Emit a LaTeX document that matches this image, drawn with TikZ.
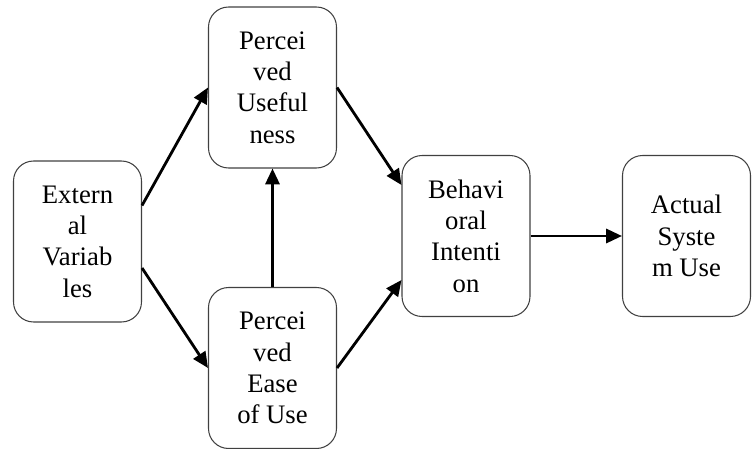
\documentclass[tikz,border=0pt]{standalone}
\usepackage{fontspec}
\setmainfont{Liberation Serif}
\usetikzlibrary{arrows.meta}

\begin{document}
\begin{tikzpicture}[x=0.02cm, y=-0.02cm,
  box/.style={draw=black!75, line width=0.6pt, rounded corners=0.4cm, align=center,
    inner sep=0pt, minimum width=2.56cm, minimum height=3.22cm,
    font=\fontsize{15.2}{17.8}\selectfont},
  link/.style={line width=1.6pt, -{Triangle[length=9pt,width=8pt]}}]
\useasboundingbox (0,0) rectangle (753,449);
\node[box] (ext) at (77.5,241.5) {Extern\\al\\Variab\\les};
\node[box] (pu) at (272.5,87.5) {Percei\\ved\\Useful\\ness};
\node[box] (peou) at (272.5,368) {Percei\\ved\\Ease\\of Use};
\node[box] (bi) at (466,236) {Behavi\\oral\\Intenti\\on};
\node[box] (asu) at (686.5,236) {Actual\\Syste\\m Use};
\draw[link] ([yshift=0.72cm]ext.east) -- (pu.west);
\draw[link] ([yshift=-0.53cm]ext.east) -- (peou.west);
\draw[link] (peou.north) -- (pu.south);
\draw[link] (pu.east) -- ([yshift=1.02cm]bi.west);
\draw[link] (peou.east) -- ([yshift=-0.88cm]bi.west);
\draw[link] (bi.east) -- (asu.west);
\end{tikzpicture}
\end{document}
